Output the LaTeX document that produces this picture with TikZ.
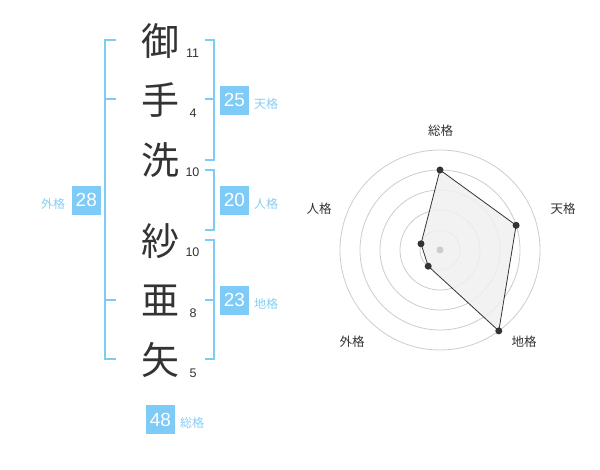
\documentclass[tikz,border=0pt]{standalone}
\usepackage{fontspec}
\setmainfont{Liberation Sans}
\newfontfamily\jp{Noto Sans CJK JP}
\definecolor{sky}{HTML}{7FCBF7}
\definecolor{skytext}{HTML}{86CDF5}
\definecolor{ink}{HTML}{333333}
\definecolor{ring}{HTML}{CCCCCC}
\definecolor{area}{HTML}{F0F0F0}
\tikzset{
  kanji/.style={text=ink,font=\jp\fontsize{38}{38}\selectfont,inner sep=0pt},
  stroke/.style={text=ink,font=\fontsize{12.5}{12.5}\selectfont,inner sep=0pt},
  bracket/.style={draw=sky,line width=2pt},
  scorebox/.style={fill=sky,text=white,minimum width=29pt,minimum height=29pt,inner sep=0pt,font=\fontsize{19}{19}\selectfont},
  scorelabel/.style={text=skytext,font=\jp\fontsize{12}{12}\selectfont,inner sep=0pt},
  axislabel/.style={text=ink,font=\jp\fontsize{12.5}{12.5}\selectfont,inner sep=0pt},
  ringline/.style={draw=ring,line width=0.8pt},
  datapt/.style={circle,fill=ink,inner sep=0pt,minimum size=7pt},
}
\begin{document}
\begin{tikzpicture}[x=1pt,y=-1pt]
\useasboundingbox (0,0) rectangle (600,470);
% characters
\node[kanji] (c1) at (160,41.5) {御};
\node[kanji] (c2) at (160,100) {手};
\node[kanji] (c3) at (160,160) {洗};
\node[kanji] (c4) at (160,241) {紗};
\node[kanji] (c5) at (160,300.5) {亜};
\node[kanji] (c6) at (160,360) {矢};
% stroke counts
\node[stroke] (n1) at (192.5,53) {11};
\node[stroke] (n2) at (193,113) {4};
\node[stroke] (n3) at (192.5,172.5) {10};
\node[stroke] (n4) at (192.5,252.5) {10};
\node[stroke] (n5) at (193,313) {8};
\node[stroke] (n6) at (193,373) {5};
% brackets
\draw[bracket] (116,40) -- (105,40) -- (105,359.5) -- (116,359.5);
\draw[bracket] (105,99.5) -- (116,99.5);
\draw[bracket] (105,300) -- (116,300);
\draw[bracket] (205,40) -- (214,40) -- (214,160) -- (205,160);
\draw[bracket] (205,99.5) -- (214,99.5);
\draw[bracket] (205,170) -- (214,170) -- (214,230) -- (205,230);
\draw[bracket] (205,240) -- (214,240) -- (214,359.5) -- (205,359.5);
\draw[bracket] (205,300) -- (214,300);
% score boxes
\node[scorebox] (s1) at (234.5,100.3) {25};
\node[scorelabel] (l1) at (266,104) {天格};
\node[scorebox] (s2) at (234.5,200.3) {20};
\node[scorelabel] (l2) at (266,204) {人格};
\node[scorebox] (s3) at (234.5,300.3) {23};
\node[scorelabel] (l3) at (266,304) {地格};
\node[scorebox] (s4) at (86.3,200.3) {28};
\node[scorelabel] (l4) at (53,204) {外格};
\node[scorebox] (s5) at (160.5,419.5) {48};
\node[scorelabel] (l5) at (192,423) {総格};
% radar chart
\foreach \r in {20,40,60,80,100} \draw[ringline] (440,250) circle (\r);
\coordinate (pA) at (440,170);
\coordinate (pB) at (516.1,225.3);
\coordinate (pC) at (498.8,330.9);
\coordinate (pD) at (428.2,266.2);
\coordinate (pE) at (421.0,243.8);
\fill[area,opacity=0.85] (pA) -- (pB) -- (pC) -- (pD) -- (pE) -- cycle;
\draw[ink,line width=0.8pt] (pA) -- (pB) -- (pC) -- (pD) -- (pE) -- cycle;
\node[circle,fill=ring,inner sep=0pt,minimum size=7pt] (ctr) at (440,250) {};
\foreach \p in {pA,pB,pC,pD,pE} \node[datapt] at (\p) {};
\node[axislabel] (a1) at (440.5,131) {総格};
\node[axislabel] (a2) at (563,208.5) {天格};
\node[axislabel] (a3) at (524,342) {地格};
\node[axislabel] (a4) at (352,342) {外格};
\node[axislabel] (a5) at (319,208.5) {人格};
\end{tikzpicture}
\end{document}
